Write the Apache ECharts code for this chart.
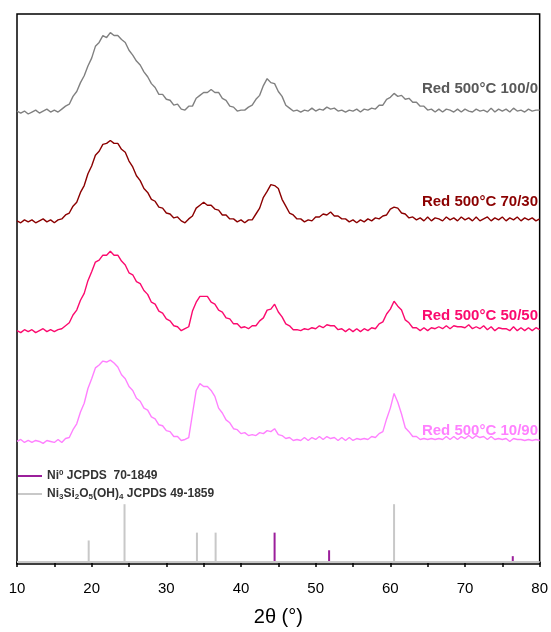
<!DOCTYPE html>
<html>
<head>
<meta charset="utf-8">
<script src="https://cdn.jsdelivr.net/npm/echarts@6/dist/echarts.min.js"></script>
<style>
html,body{margin:0;padding:0;background:#fff;}
#chart{width:551px;height:632px;}
</style>
</head>
<body>
<div id="chart"></div>
<script>
// 2-theta sampling of the patterns (degrees)
const angleStart = 10;
const angleStep = 0.5;

// Offset intensities (a.u., stacked), one value per 0.5 deg from 10 to 80
const red100_0 = [
460,458,460,457,459,461,458,460,462,459,
461,459,462,465,467,475,480,489,496,506,
514,526,530,537,535,540,537,537,533,530,
522,517,511,507,500,495,488,484,477,477,
472,471,466,467,462,461,465,465,473,476,
479,479,482,479,479,473,471,465,464,460,
461,461,464,466,472,476,486,493,489,488,
480,475,466,463,460,461,459,461,460,463,
460,462,461,464,462,463,460,461,459,461,
460,462,459,462,461,463,462,466,466,472,
474,478,475,476,472,473,469,469,465,465,
461,462,459,462,459,462,461,459,462,459,
462,460,459,462,460,461,459,463,459,462,
460,462,459,463,460,461,459,462,460,461,
461];
const red70_30 = [
348,346,349,347,349,346,348,350,347,349,
346,349,350,354,356,363,367,377,384,396,
404,415,419,426,427,430,427,427,421,418,
409,403,394,389,381,377,370,368,362,361,
356,355,351,352,348,346,350,353,361,364,
367,364,364,360,359,354,354,350,350,347,
349,346,349,349,355,361,372,378,385,384,
381,370,363,356,354,350,350,347,349,348,
352,352,355,354,357,353,353,350,350,347,
349,346,349,347,350,348,351,350,353,354,
360,362,361,356,355,351,352,349,351,348,
352,348,351,350,348,352,349,351,348,352,
349,351,348,352,348,350,352,348,351,349,
352,348,351,349,352,348,351,349,351,348,
350];
const red50_50 = [
236,234,237,235,237,234,236,238,235,237,
235,237,238,241,244,252,257,267,274,287,
296,306,308,313,313,317,313,313,307,303,
295,293,286,284,277,273,265,263,256,254,
248,246,241,240,236,238,240,256,265,271,
271,271,265,263,257,255,249,248,243,243,
239,240,238,241,241,246,249,257,258,263,
255,250,243,241,237,237,236,238,237,239,
238,241,239,242,241,241,237,238,235,238,
235,238,235,238,236,239,238,243,245,253,
258,266,261,257,247,244,239,239,236,239,
236,239,238,240,238,241,238,241,240,240,
239,242,238,240,238,241,237,240,236,239,
238,238,236,240,236,239,236,239,236,239,
237];
const red10_90 = [
123,125,122,124,122,124,123,121,124,123,
122,125,122,126,127,135,141,153,162,177,
187,198,201,205,204,206,203,199,191,187,
179,175,167,164,157,155,148,146,140,139,
134,133,128,128,124,125,127,151,175,182,
179,179,175,169,157,152,145,142,136,135,
131,132,129,130,129,132,131,134,133,136,
130,129,126,127,124,125,124,127,124,127,
125,128,125,128,126,127,124,127,124,127,
124,126,125,126,125,128,127,131,133,146,
157,172,163,151,137,133,128,128,125,126,
125,126,125,126,125,128,125,128,125,128,
126,129,126,129,127,128,125,128,125,126,
125,126,123,126,125,125,124,125,124,125,
124];

// Reference patterns: peak positions (2theta) and stick heights
const niPeaks = [44.5, 51.8, 76.4];
const niHeights = [30, 12, 6];
const silPeaks = [19.6, 24.4, 34.1, 36.6, 60.5];
const silHeights = [22, 59, 30, 30, 59];

const sampleNames = ['Red 500°C 100/0', 'Red 500°C 70/30', 'Red 500°C 50/50', 'Red 500°C 10/90'];
const refNames = ['Ni0 JCPDS  70-1849', 'Ni3Si2O5(OH)4 JCPDS 49-1859'];
const xTicks = [10, 20, 30, 40, 50, 60, 70, 80];

const curveColors = ['#808080', '#8b0000', '#fb0a6e', '#ff80ff'];
const labelColors = ['#595959', '#8b0000', '#fb0a6e', '#ff80ff'];
const niColor = '#9b1f9b';
const silColor = '#c8c8c8';

function toXY(arr) {
  return arr.map((v, i) => [angleStart + i * angleStep, v]);
}
function sticks(pos, h) {
  return pos.map((p, i) => [p, h[i]]);
}

const curves = [red100_0, red70_30, red50_50, red10_90];
const series = curves.map((c, k) => ({
  name: sampleNames[k],
  type: 'line',
  data: toXY(c),
  symbol: 'none',
  silent: true,
  lineStyle: { color: curveColors[k], width: 1.4 },
  itemStyle: { color: curveColors[k] },
  z: 3
}));

series.push({
  name: refNames[0],
  type: 'bar',
  data: sticks(niPeaks, niHeights),
  barWidth: 2,
  barGap: '-100%',
  itemStyle: { color: niColor },
  z: 4
});
series.push({
  name: refNames[1],
  type: 'bar',
  data: sticks(silPeaks, silHeights),
  barWidth: 2,
  barGap: '-100%',
  itemStyle: { color: silColor },
  markLine: {
    silent: true,
    symbol: 'none',
    label: { show: false },
    lineStyle: { color: silColor, width: 2, type: 'solid' },
    data: [{ yAxis: 0 }]
  },
  z: 2
});

const labelY = [90, 203, 317, 432];
const graphics = sampleNames.map((n, k) => ({
  type: 'text',
  right: 13,
  top: labelY[k] - 9,
  style: {
    text: n,
    fill: labelColors[k],
    font: 'bold 15px "Liberation Sans", Arial, sans-serif'
  }
}));

const chart = echarts.init(document.getElementById('chart'), null, { renderer: 'canvas' });
chart.setOption({
  animation: false,
  backgroundColor: '#fff',
  grid: {
    left: 17, right: 8.5, top: 14, bottom: 57,
    show: true, borderColor: '#000', borderWidth: 1.5, backgroundColor: 'transparent'
  },
  legend: {
    data: refNames,
    orient: 'vertical',
    left: 13,
    top: 464,
    icon: 'rect',
    itemWidth: 24,
    itemHeight: 2,
    itemGap: 6,
    selectedMode: false,
    formatter: function (name) {
      if (name === refNames[0]) {
        return '{b|Ni}{sup|0}{b| JCPDS  70-1849}';
      }
      return '{b|Ni}{sub|3}{b|Si}{sub|2}{b|O}{sub|5}{b|(OH)}{sub|4}{b| JCPDS 49-1859}';
    },
    textStyle: {
      rich: {
        b: { fontSize: 12, fontWeight: 'bold', color: '#333', fontFamily: 'Liberation Sans', lineHeight: 14 },
        sup: { fontSize: 8, fontWeight: 'bold', color: '#333', fontFamily: 'Liberation Sans', lineHeight: 14, verticalAlign: 'top' },
        sub: { fontSize: 8, fontWeight: 'bold', color: '#333', fontFamily: 'Liberation Sans', lineHeight: 14, verticalAlign: 'bottom' }
      }
    }
  },
  xAxis: {
    type: 'value',
    min: 10,
    max: 80,
    interval: 10,
    name: '2θ (°)',
    nameLocation: 'middle',
    nameGap: 43,
    nameTextStyle: { fontSize: 20, color: '#000', fontFamily: 'Liberation Sans' },
    axisLine: { show: true, lineStyle: { color: '#000', width: 1.5 } },
    axisTick: { show: true, length: 5, inside: false, lineStyle: { color: '#000', width: 1.5 } },
    minorTick: { show: true, splitNumber: 2, length: 5, lineStyle: { color: '#000', width: 1.5 } },
    splitLine: { show: false },
    axisLabel: {
      fontSize: 15, color: '#000', fontFamily: 'Liberation Sans', margin: 17,
      formatter: function (v) { return xTicks.indexOf(v) >= 0 ? String(v) : ''; }
    }
  },
  yAxis: {
    type: 'value',
    min: -2,
    max: 559,
    show: false,
    splitLine: { show: false }
  },
  graphic: graphics,
  series: series
});
</script>
</body>
</html>
